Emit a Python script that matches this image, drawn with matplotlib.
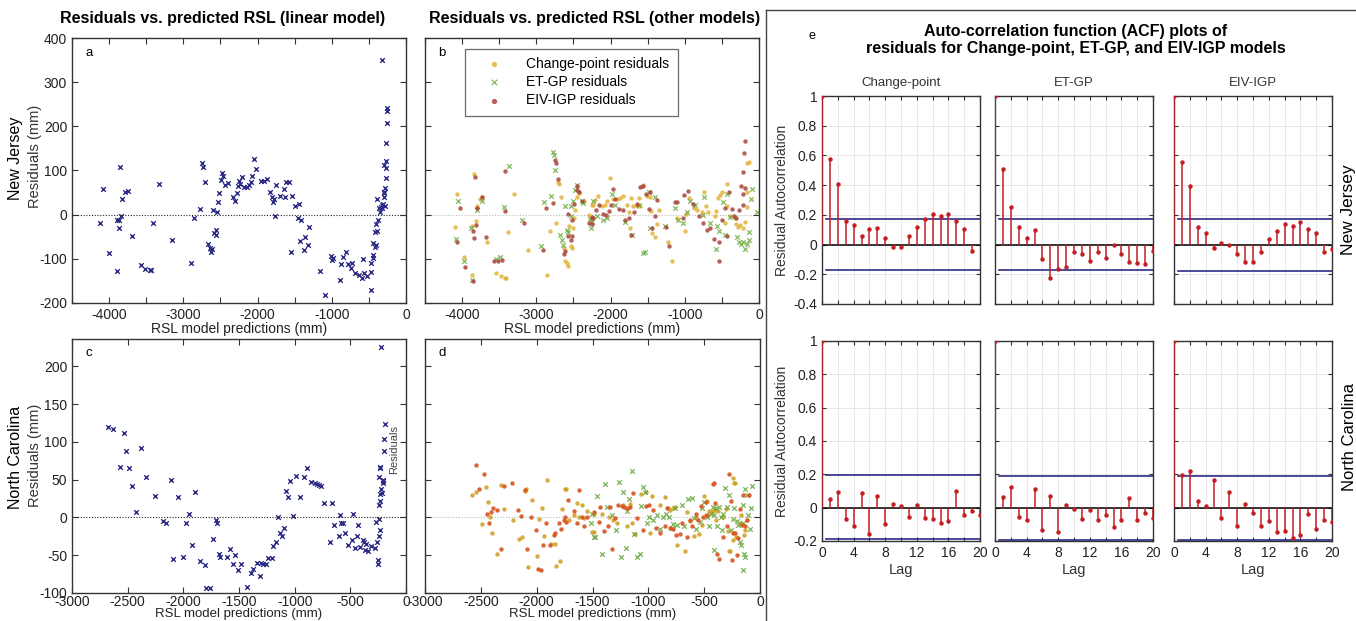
import numpy as np
import matplotlib
matplotlib.use("Agg")
import matplotlib.pyplot as plt
from matplotlib.lines import Line2D

plt.rcParams['font.family'] = ['Liberation Sans', 'DejaVu Sans']
plt.rcParams['axes.unicode_minus'] = False

# ---- data: linear model residuals (x = RSL prediction mm, y = residual mm) ----
nj_lin = [(-4117, -20), (-4081, 57), (-4000, -87), (-3896, -127), (-3900, -13), (-3873, -13), (-3855, 108),
          (-3864, -31), (-3846, -2), (-3828, 35), (-3783, 51), (-3747, 54), (-3688, -48), (-3571, -115),
          (-3512, -122), (-3453, -125), (-3431, -125), (-3403, -18), (-3331, 70), (-3146, -57), (-2893, -109),
          (-2857, -7), (-2775, 13), (-2748, 116), (-2739, 109), (-2712, 75), (-2662, -66), (-2644, -75),
          (-2630, -85), (-2617, -78), (-2599, 11), (-2581, -42), (-2563, -35), (-2554, -46), (-2545, 7),
          (-2536, 29), (-2517, 49), (-2499, 78), (-2481, 95), (-2463, 87), (-2432, 67), (-2400, 72),
          (-2337, 41), (-2310, 31), (-2282, 50), (-2264, 66), (-2255, 77), (-2237, 69), (-2206, 85),
          (-2179, 63), (-2147, 62), (-2120, 67), (-2093, 75), (-2075, 88), (-2052, 127), (-2016, 103),
          (-1957, 77), (-1912, 77), (-1867, 81), (-1831, 52), (-1803, 39), (-1794, 28), (-1781, 35),
          (-1767, -2), (-1758, 67), (-1704, 42), (-1645, 57), (-1627, 39), (-1614, 74), (-1578, 74),
          (-1546, -85), (-1532, 42), (-1492, 20), (-1460, -8), (-1442, 24), (-1424, -60), (-1415, -12),
          (-1370, -79), (-1361, -51), (-1315, -69), (-1306, -27), (-1162, -127), (-1089, -183), (-1017, -94),
          (-999, -102), (-981, -99), (-890, -147), (-872, -112), (-854, -95), (-809, -85), (-782, -112),
          (-746, -121), (-724, -110), (-683, -132), (-637, -137), (-592, -143), (-583, -100), (-565, -132),
          (-520, -140), (-475, -171), (-466, -129), (-466, -109), (-447, -97), (-438, -92), (-447, -64),
          (-420, -74), (-402, -69), (-420, -40), (-407, -22), (-393, -38), (-384, 36), (-375, -11),
          (-366, 16), (-348, 5), (-339, 17), (-330, 350), (-330, 21), (-312, 24), (-303, 48), (-303, 39),
          (-294, 51), (-285, 60), (-294, 113), (-276, 83), (-276, 122), (-267, 106), (-267, 162),
          (-262, 207), (-258, 235), (-258, 241), (-285, 20), (-321, 15)]

nc_lin = [(-2676, 119), (-2628, 117), (-2571, 67), (-2535, 112), (-2514, 88), (-2487, 65), (-2463, 41),
          (-2421, 7), (-2376, 92), (-2337, 54), (-2253, 28), (-2187, -5), (-2154, -8), (-2112, 50),
          (-2091, -55), (-2049, 27), (-2001, -53), (-1974, -8), (-1947, 4), (-1926, -36), (-1896, 33),
          (-1854, -58), (-1809, -63), (-1797, -94), (-1758, -93), (-1734, -28), (-1710, -4), (-1695, -7),
          (-1683, -49), (-1668, -53), (-1608, -53), (-1578, -42), (-1557, -61), (-1533, -50), (-1512, -70),
          (-1479, -62), (-1428, -92), (-1389, -73), (-1371, -68), (-1341, -60), (-1314, -77), (-1299, -60),
          (-1281, -61), (-1260, -61), (-1239, -54), (-1206, -54), (-1194, -38), (-1170, -32), (-1152, 0),
          (-1131, -20), (-1113, -24), (-1095, -14), (-1074, 35), (-1056, 27), (-1038, 48), (-1014, 2),
          (-984, 55), (-954, 27), (-918, 53), (-885, 65), (-855, 47), (-819, 45), (-798, 44), (-780, 43),
          (-765, 41), (-741, 19), (-684, -33), (-669, 19), (-651, -10), (-606, -25), (-591, 3), (-582, -8),
          (-567, -8), (-549, -20), (-522, -36), (-489, -30), (-474, 5), (-459, -40), (-441, -25),
          (-429, -10), (-414, -39), (-390, -30), (-375, -33), (-366, -43), (-357, -35), (-345, -45),
          (-318, -38), (-282, -40), (-273, -6), (-264, -33), (-255, -56), (-255, -61), (-246, -2),
          (-243, -25), (-243, 16), (-240, 53), (-237, 22), (-234, 67), (-234, 31), (-231, 65), (-231, -17),
          (-225, 226), (-225, 38), (-216, 32), (-210, 46), (-207, 49), (-201, 104), (-195, 88), (-189, 124),
          (-204, 48)]

# ---- data: other models, New Jersey ----
nj_cp = [(-4064, 47), (-4096, -28), (-3979, -95), (-3862, -137), (-3835, 93), (-3818, -14), (-3871, -25),
         (-3804, 20), (-3728, 39), (-3759, 36), (-3665, -63), (-3544, -131), (-3481, -139), (-3422, -143),
         (-3410, -143), (-3378, -39), (-3301, 47), (-3108, -81), (-2852, -137), (-2816, -37), (-2731, -20),
         (-2673, 41), (-2704, 75), (-2692, 70), (-2623, -75), (-2610, -105), (-2592, -110), (-2578, -117),
         (-2538, -72), (-2524, -76), (-2502, -30), (-2556, -25), (-2493, -8), (-2480, 11), (-2448, 39),
         (-2430, 48), (-2421, 52), (-2354, 32), (-2286, -1), (-2264, -10), (-2233, 22),
         (-2250, 23), (-2210, 34), (-2165, 42), (-2120, 19), (-2075, 22), (-2044, 30), (-2008, 83),
         (-1963, 36), (-1918, 36), (-1873, 37), (-1828, 42), (-1783, 22), (-1756, 5), (-1729, 37),
         (-1738, -31), (-1693, 19), (-1648, 19), (-1621, 37), (-1603, 19), (-1577, 64), (-1559, 67),
         (-1514, 43), (-1469, 40), (-1451, 9), (-1437, -42), (-1401, -51), (-1379, -22), (-1352, 10),
         (-1222, -63), (-1168, -106), (-1101, -8), (-1002, -36), (-984, 2), (-939, 37), (-876, 16),
         (-831, 10), (-768, 7), (-737, 51), (-714, 20), (-683, 7), (-593, -4), (-580, 9), (-548, 37),
         (-526, 45), (-495, 52), (-427, 69), (-436, 20), (-463, -19), (-391, -4), (-319, -8), (-310, -22),
         (-279, -27), (-257, -24), (-221, -31), (-189, -17), (-167, 52), (-158, 117), (-167, 17), (-140, 120)]

nj_et = [(-4051, 30), (-4082, -54), (-3979, -105), (-3862, -148), (-3800, 11), (-3880, -30), (-3737, 32),
         (-3485, -95), (-3548, -100), (-3373, 111), (-3440, 18), (-3193, -11), (-2933, -71), (-2893, 29),
         (-2803, 42), (-2776, 143), (-2767, 136), (-2744, 100), (-2614, 19), (-2533, 19), (-2502, 31),
         (-2538, -2), (-2592, -34), (-2578, -40), (-2686, -45), (-2659, -58), (-2637, -69), (-2480, 55),
         (-2457, 68), (-2390, 30), (-2372, 27), (-2278, -10), (-2255, -17), (-2233, 32),
         (-2259, -31), (-2187, -2), (-2097, -11), (-2052, -8), (-1981, 47), (-1936, 22), (-1810, -16),
         (-1711, -46), (-1621, 22), (-1559, -86), (-1541, -84), (-1487, 52), (-1397, 39), (-1469, -30),
         (-1271, -25), (-1137, 16), (-1092, -11), (-1029, -20), (-975, 5), (-930, 31), (-867, 23),
         (-741, 39), (-750, -1), (-661, -20), (-580, -77), (-571, -25), (-544, -36), (-490, 28),
         (-463, -46), (-427, 46), (-391, -5), (-301, -51), (-275, -63), (-239, -66), (-212, -63),
         (-185, -78), (-158, -67), (-131, -57), (-113, 36), (-100, 58), (-140, -40), (-32, 5)]

nj_eiv = [(-4033, 16), (-4064, -62), (-3957, -118), (-3849, -150), (-3822, 85), (-3800, 15), (-3853, -37),
          (-3835, -52), (-3813, -23), (-3728, 41), (-3674, -50), (-3571, -104), (-3517, -105), (-3458, -102),
          (-3422, 99), (-3422, 8), (-3171, -20), (-2906, -81), (-2866, 15), (-2780, 26), (-2749, 123),
          (-2740, 116), (-2713, 80), (-2578, 1), (-2570, -49), (-2538, -57), (-2524, -49), (-2623, -90),
          (-2614, -83), (-2520, -11), (-2489, 24), (-2457, 65), (-2448, 55), (-2426, 51), (-2390, 30),
          (-2291, -20), (-2255, -5),
          (-2250, -21), (-2232, -8), (-2196, 10), (-2160, 22), (-2097, 1), (-2061, 0), (-2017, 8),
          (-1999, 22), (-1972, 58), (-1945, 36), (-1891, 13), (-1837, 11), (-1801, -11), (-1747, -8),
          (-1720, -46), (-1680, 7), (-1648, 24), (-1603, 62), (-1568, 66), (-1523, 46), (-1478, 13),
          (-1469, 51), (-1442, -30), (-1401, -4), (-1370, 33), (-1253, -28), (-1208, -70), (-1137, 28),
          (-1110, 28), (-1029, -7), (-1006, 45), (-957, 54), (-885, 25), (-813, -4), (-759, -19),
          (-696, -34), (-661, -30), (-607, -55), (-535, -63), (-499, -13), (-454, 14), (-409, 52),
          (-364, 13), (-337, -4), (-310, -8), (-266, 10), (-248, 66), (-221, 46), (-212, 96), (-203, 140),
          (-194, 166), (-185, 60), (-212, 22), (-535, -106), (-427, -48)]

# ---- data: other models, North Carolina ----
nc_cp = [(-2576, 30), (-2540, 33), (-2457, 40), (-2436, 20), (-2487, -9), (-2415, 0), (-2397, -21),
         (-2358, -49), (-2319, 43), (-2290, 11), (-2215, -4), (-2158, -28), (-2131, -26), (-2104, 35),
         (-2096, 37), (-2039, 23), (-1997, -51), (-1976, -2), (-1952, 13), (-1934, -24), (-1907, 50),
         (-2075, -65), (-1875, -35), (-1833, -35), (-1824, -64), (-1791, -58), (-1770, 11), (-1746, 38),
         (-1734, 37), (-1713, -4), (-1663, 3), (-1636, 19), (-1621, 1), (-1597, 16), (-1579, -1),
         (-1549, 9), (-1501, -19), (-1490, 5),
         (-1486, -19), (-1415, 5), (-1355, 0), (-1319, -4), (-1277, -8), (-1223, 16), (-1194, -11),
         (-1167, 18), (-1146, -8), (-1122, -22), (-1068, 31), (-1023, 33), (-988, -20), (-964, 28),
         (-892, 17), (-847, 27), (-823, 12), (-806, 10), (-782, 12), (-761, 14), (-740, -37), (-671, -45),
         (-656, 7), (-626, -5), (-591, -24), (-573, 1), (-543, -22), (-516, -10), (-501, 28), (-480, 3),
         (-471, 22), (-453, 8), (-436, 7), (-421, 8), (-403, 10), (-394, -4), (-373, 8), (-334, 0),
         (-307, 11), (-286, -18), (-280, -44), (-268, -45), (-244, 52), (-232, 46), (-221, 45),
         (-241, -30), (-215, -26), (-182, -8), (-170, 3), (-146, -23), (-137, -17), (-116, -4)]

nc_et = [(-1501, 4), (-1513, -8), (-1484, -26), (-1456, 28), (-1474, -26), (-1388, 44), (-1412, -48),
         (-1367, 14), (-1325, 3), (-1292, -17), (-1259, 47), (-1244, -53), (-1226, 33), (-1200, -40),
         (-1191, 8), (-1176, 25), (-1149, 62), (-1128, -22), (-1098, -52), (-1077, -49), (-1062, 15),
         (-1044, 40), (-1029, 34), (-1015, -8), (-991, 0), (-955, -3), (-925, 3), (-895, -15), (-865, 0),
         (-841, 5), (-815, 0), (-788, -14), (-776, -9), (-761, 12), (-740, -10), (-701, 17), (-680, -11),
         (-641, 25), (-612, 26), (-594, -1), (-573, -15), (-534, -6), (-522, 13), (-501, 21), (-477, 0),
         (-453, -12), (-441, 5), (-423, 14), (-412, 3), (-397, 13), (-385, -11), (-364, 14), (-349, 0),
         (-343, -17), (-331, 5), (-310, 39), (-292, 14), (-280, 30), (-256, -17), (-244, -2), (-229, 13),
         (-209, -5), (-194, -10), (-182, -33), (-167, -37), (-155, 16), (-149, -8), (-131, 37),
         (-119, 30), (-107, 3), (-92, -15), (-77, 13), (-68, 41), (-149, -70), (-137, -53), (-143, -49),
         (-409, -43)]

nc_eiv = [(-2543, 69), (-2472, 57), (-2516, 38), (-2409, 7), (-2388, 12), (-2445, 5), (-2424, -7),
          (-2355, 10), (-2290, 42), (-2218, 46), (-2319, -42), (-2164, 10), (-2137, 2), (-2104, 36),
          (-2051, 0), (-2003, -17), (-1943, -37), (-1985, -68), (-1961, -70), (-1916, -7), (-1884, -37),
          (-1842, -23), (-1833, -21), (-1800, -8), (-1782, -15), (-1755, -3), (-1743, 1), (-1734, -6),
          (-1722, 23), (-1669, 8), (-1642, -7), (-1624, 36), (-1597, 0), (-1573, -11), (-1546, 0),
          (-1490, 7), (-2084, -42),
          (-1432, 14), (-1441, -6), (-1397, -18), (-1364, -12), (-1346, 14), (-1322, -42), (-1298, -1),
          (-1271, 16), (-1235, 15), (-1215, 14), (-1188, 13), (-1161, 14), (-1140, 32), (-1098, -1),
          (-1050, -17), (-1021, 15), (-997, 17), (-955, 10), (-931, -14), (-892, -21), (-853, -11),
          (-829, 13), (-806, -14), (-782, -15), (-755, -23), (-719, -22), (-695, -7), (-650, -26),
          (-626, -4), (-609, -11), (-576, 4), (-552, -4), (-525, 15), (-507, 1), (-483, 20), (-471, 3),
          (-423, 44), (-409, 46), (-400, 19), (-385, -49), (-370, -55), (-328, -26), (-298, -12),
          (-277, 58), (-256, 22), (-244, -20), (-227, -21), (-250, -57), (-206, -50), (-200, -27),
          (-176, 11), (-161, -10), (-149, 30), (-137, -11), (-119, -3), (-101, 30)]

# ---- data: ACF values (lag 0..20) and 95% bounds ----
acf_nj_cp = [1, 0.573, 0.409, 0.162, 0.133, 0.056, 0.106, 0.11, 0.045, -0.016, -0.016, 0.058, 0.121,
             0.169, 0.205, 0.189, 0.205, 0.157, 0.106, -0.045]
acf_nj_et = [1, 0.51, 0.256, 0.115, 0.047, 0.097, -0.094, -0.227, -0.164, -0.148, -0.049, -0.063, -0.11,
             -0.049, -0.092, -0.004, -0.063, -0.119, -0.124, -0.13, -0.04]
acf_nj_eiv = [1, 0.557, 0.391, 0.115, 0.081, -0.025, 0.009, 0.0, -0.063, -0.117, -0.117, -0.047, 0.038,
              0.094, 0.139, 0.128, 0.155, 0.108, 0.081, -0.049, -0.029]
acf_nc_cp = [1, 0.052, 0.092, -0.068, -0.108, 0.086, -0.156, 0.072, -0.1, 0.02, 0.008, -0.054, 0.014,
             -0.064, -0.068, -0.092, -0.078, 0.1, -0.044, -0.02, -0.044]
acf_nc_et = [1, 0.066, 0.122, -0.056, -0.074, 0.114, -0.134, 0.072, -0.146, 0.016, -0.006, -0.07, -0.016,
             -0.074, -0.044, -0.116, -0.076, 0.058, -0.072, -0.032, -0.064]
acf_nc_eiv = [1, 0.196, 0.218, 0.042, 0.012, 0.168, -0.064, 0.092, -0.108, 0.02, -0.032, -0.112, -0.08,
              -0.146, -0.142, -0.18, -0.166, -0.04, -0.13, -0.076, -0.088]
bounds_nj = [(0.173, -0.173), (0.173, -0.173), (0.169, -0.178)]
bounds_nc = [(0.196, -0.19), (0.188, -0.192), (0.188, -0.192)]

models = ["Change-point", "ET-GP", "EIV-IGP"]

W, H = 1356, 621
fig = plt.figure(figsize=(W / 100, H / 100), dpi=100)


def box(l, t, r, b):
    return [l / W, (H - b) / H, (r - l) / W, (b - t) / H]


navy = '#2b2b85'
gold = '#e2b43a'
green = '#67a83b'
brown = '#a8453a'
orange_red = '#d9531e'
frame = '#333333'


def style_axes(ax, fs=10):
    ax.tick_params(direction='in', top=True, right=True, length=4, width=0.8,
                   labelsize=fs, colors=frame, labelcolor='#222222')
    for s in ax.spines.values():
        s.set_color(frame)
        s.set_linewidth(1.0)


def xlabel_at(ax, text, y_px, ax_bottom_px, ax_height_px, fs=10):
    # put the x label centre at a given pixel row below the axes
    ax.set_xlabel(text, fontsize=fs, color='#222222')
    ax.xaxis.label.set_va('center')
    ax.xaxis.set_label_coords(0.5, (ax_bottom_px - y_px) / ax_height_px)


def xy(pts):
    a = np.array(pts, dtype=float)
    return a[:, 0], a[:, 1]


# ---- panel a ----
ax_a = fig.add_axes(box(72, 38, 406, 303))
x, y = xy(nj_lin)
ax_a.scatter(x, y, marker='x', s=11, lw=1.0, color=navy)
ax_a.axhline(0, color='#222222', ls=(0, (1, 1.5)), lw=0.8)
ax_a.set_xlim(-4500, 0)
ax_a.set_ylim(-200, 400)
ax_a.set_xticks(np.arange(-4500, 1, 500))
ax_a.set_xticklabels([str(v) if v % 1000 == 0 else '' for v in range(-4500, 1, 500)])
ax_a.set_yticks(np.arange(-200, 401, 100))
style_axes(ax_a)
xlabel_at(ax_a, 'RSL model predictions (mm)', 329, 303, 265)
ax_a.text(0.04, 0.945, 'a', transform=ax_a.transAxes, fontsize=9.5, va='center')

# ---- panel b ----
ax_b = fig.add_axes(box(425, 38, 759, 303))
ax_b.axhline(0, color='#bbbbbb', ls=(0, (1, 1.5)), lw=0.8, zorder=0)
x, y = xy(nj_cp)
ax_b.scatter(x, y, marker='o', s=10, lw=0, color=gold, alpha=0.85, label='Change-point residuals')
x, y = xy(nj_et)
ax_b.scatter(x, y, marker='x', s=11, lw=0.9, color=green, alpha=0.8, label='ET-GP residuals')
x, y = xy(nj_eiv)
ax_b.scatter(x, y, marker='o', s=10, lw=0, color=brown, alpha=0.85, label='EIV-IGP residuals')
ax_b.set_xlim(-4500, 0)
ax_b.set_ylim(-200, 400)
ax_b.set_xticks(np.arange(-4500, 1, 500))
ax_b.set_xticklabels([str(v) if v % 1000 == 0 else '' for v in range(-4500, 1, 500)])
ax_b.set_yticks(np.arange(-200, 401, 100))
ax_b.set_yticklabels([])
style_axes(ax_b)
xlabel_at(ax_b, 'RSL model predictions (mm)', 329, 303, 265)
ax_b.text(0.04, 0.945, 'b', transform=ax_b.transAxes, fontsize=9.5, va='center')
leg = ax_b.legend(loc='upper left', bbox_to_anchor=(0.12, 0.96), fontsize=10, frameon=True,
                  fancybox=False, borderpad=0.6, handlelength=3.0, handletextpad=0.8,
                  labelspacing=0.3, markerscale=1.2, borderaxespad=0)
leg.get_frame().set_edgecolor('#444444')
leg.get_frame().set_linewidth(0.9)

# ---- panel c ----
ax_c = fig.add_axes(box(72, 339, 406, 593))
x, y = xy(nc_lin)
ax_c.scatter(x, y, marker='x', s=11, lw=1.0, color=navy)
ax_c.axhline(0, color='#222222', ls=(0, (1, 1.5)), lw=0.8)
ax_c.set_xlim(-3000, 0)
ax_c.set_ylim(-100, 236)
ax_c.set_xticks(np.arange(-3000, 1, 500))
ax_c.set_yticks(np.arange(-100, 201, 50))
style_axes(ax_c)
ax_c.tick_params(axis='x', pad=1.5)
xlabel_at(ax_c, 'RSL model predictions (mm)', 614, 593, 254, fs=9.5)
ax_c.text(0.04, 0.945, 'c', transform=ax_c.transAxes, fontsize=9.5, va='center')

# ---- panel d ----
ax_d = fig.add_axes(box(425, 339, 760, 593))
ax_d.axhline(0, color='#bbbbbb', ls=(0, (1, 1.5)), lw=0.8, zorder=0)
x, y = xy(nc_cp)
ax_d.scatter(x, y, marker='o', s=10, lw=0, color='#d1a32a', alpha=0.9)
x, y = xy(nc_et)
ax_d.scatter(x, y, marker='x', s=11, lw=0.9, color=green, alpha=0.85)
x, y = xy(nc_eiv)
ax_d.scatter(x, y, marker='o', s=10, lw=0, color=orange_red, alpha=0.9)
ax_d.set_xlim(-3000, 0)
ax_d.set_ylim(-100, 236)
ax_d.set_xticks(np.arange(-3000, 1, 500))
ax_d.set_yticks(np.arange(-100, 201, 50))
ax_d.set_yticklabels([])
style_axes(ax_d)
ax_d.tick_params(axis='x', pad=1.5)
xlabel_at(ax_d, 'RSL model predictions (mm)', 614, 593, 254, fs=9.5)
ax_d.text(0.04, 0.945, 'd', transform=ax_d.transAxes, fontsize=9.5, va='center')

# left-hand titles and row labels
fig.text(223 / W, 1 - 19 / H, 'Residuals vs. predicted RSL (linear model)', fontsize=11.5,
         fontweight='bold', ha='center', va='center')
fig.text(595 / W, 1 - 19 / H, 'Residuals vs. predicted RSL (other models)', fontsize=11.5,
         fontweight='bold', ha='center', va='center')
fig.text(16 / W, 1 - 158 / H, 'New Jersey', fontsize=11.5, rotation=90, ha='center', va='center')
fig.text(35 / W, 1 - 156 / H, 'Residuals (mm)', fontsize=10.5, rotation=90, ha='center', va='center',
         color='#333333')
fig.text(16 / W, 1 - 457 / H, 'North Carolina', fontsize=11.5, rotation=90, ha='center', va='center')
fig.text(35 / W, 1 - 455 / H, 'Residuals (mm)', fontsize=10.5, rotation=90, ha='center', va='center',
         color='#333333')
fig.text(394 / W, 1 - 449 / H, 'Residuals', fontsize=8, rotation=90, ha='center', va='center',
         color='#444444')

# ---- ACF panels ----
stem_red = '#c41e24'
cols = [(822, 980), (995, 1153), (1174, 1332)]
rows = [(96, 304, (-0.4, 1), [acf_nj_cp, acf_nj_et, acf_nj_eiv], bounds_nj),
        (341, 541, (-0.2, 1), [acf_nc_cp, acf_nc_et, acf_nc_eiv], bounds_nc)]

for r, (top, bot, ylim, vals_list, bnds) in enumerate(rows):
    for c, (l, rt) in enumerate(cols):
        ax = fig.add_axes(box(l, top, rt, bot))
        vals = vals_list[c]
        lags = np.arange(len(vals))
        ax.grid(True, color='#e8e8e8', lw=0.7)
        ax.set_axisbelow(True)
        ax.vlines(lags, 0, vals, color=stem_red, lw=1.1, zorder=3)
        ax.plot(lags, vals, 'o', color=stem_red, ms=2.2, zorder=4)
        ax.axhline(0, color='black', lw=1.1, zorder=2)
        up, lo = bnds[c]
        ax.plot([0.5, 20], [up, up], color=navy, lw=1.2, zorder=2)
        ax.plot([0.5, 20], [lo, lo], color=navy, lw=1.2, zorder=2)
        ax.set_xlim(0, 20)
        ax.set_ylim(*ylim)
        ax.set_xticks(np.arange(0, 21, 2))
        yt = np.round(np.arange(ylim[0], 1.001, 0.2), 1)
        ax.set_yticks(yt)
        style_axes(ax, fs=10)
        ax.tick_params(length=3)
        if c == 0:
            ax.set_yticklabels(['1' if v == 1 else ('0' if v == 0 else f'{v:g}') for v in yt])
            ax.set_ylabel('Residual Autocorrelation', fontsize=10, labelpad=3, color='#333333')
        else:
            ax.set_yticklabels([])
        if r == 1:
            ax.set_xticklabels([str(v) if v % 4 == 0 else '' for v in range(0, 21, 2)])
            ax.set_xlabel('Lag', fontsize=10.5, labelpad=2, color='#333333')
        else:
            ax.set_xticklabels([])
            ax.set_title(models[c], fontsize=9.5, pad=7, color='#333333')

fig.text(1076 / W, 1 - 40 / H,
         'Auto-correlation function (ACF) plots of\nresiduals for Change-point, ET-GP, and EIV-IGP models',
         fontsize=11.5, fontweight='bold', ha='center', va='center', linespacing=1.2)
fig.text(812 / W, 1 - 36 / H, 'e', fontsize=9, ha='center', va='center')
fig.text(1349 / W, 1 - 210 / H, 'New Jersey', fontsize=12.5, rotation=90, ha='center', va='center')
fig.text(1349 / W, 1 - 437 / H, 'North Carolina', fontsize=12, rotation=90, ha='center', va='center')

# separator lines
fig.add_artist(Line2D([766 / W, 766 / W], [0, 1 - 10 / H], color='#444444', lw=1.0))
fig.add_artist(Line2D([766 / W, 1], [1 - 10 / H, 1 - 10 / H], color='#444444', lw=1.0))

fig.savefig('out.png', dpi=100)
